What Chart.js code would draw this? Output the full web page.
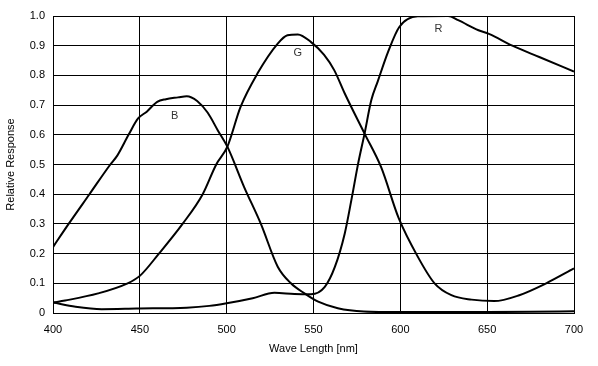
<!DOCTYPE html>
<html>
<head>
<meta charset="utf-8">
<script src="https://cdn.jsdelivr.net/npm/chart.js@4/dist/chart.umd.min.js"></script>
<style>html,body{margin:0;padding:0;background:#fff}canvas{display:block}</style>
</head>
<body>
<canvas id="c" width="598" height="366"></canvas>
<script>
// Wavelengths (nm) and relative responses
const bWave = [400, 409, 421, 433, 437, 443.5, 449, 454, 460, 465, 472, 477, 483, 489, 495, 500.4, 510, 519.7, 529.4, 537, 544.8, 552.7, 564, 579, 600, 650, 675, 700];
const bResp = [0.222, 0.30, 0.40, 0.50, 0.53, 0.60, 0.655, 0.678, 0.711, 0.72, 0.726, 0.73, 0.714, 0.675, 0.614, 0.56, 0.425, 0.30, 0.156, 0.10, 0.066, 0.038, 0.016, 0.005, 0.003, 0.003, 0.004, 0.006];

const gWave = [400, 407, 426, 442.6, 450, 461, 474.6, 486.2, 494, 500.4, 508, 517.7, 529.4, 535, 541, 548.6, 556, 562, 568, 579.4, 589, 599, 610, 619.7, 629.4, 641, 654, 668.5, 684, 700];
const gResp = [0.035, 0.042, 0.066, 0.099, 0.125, 0.20, 0.30, 0.40, 0.50, 0.56, 0.694, 0.806, 0.907, 0.935, 0.938, 0.912, 0.87, 0.817, 0.739, 0.604, 0.49, 0.32, 0.19, 0.10, 0.06, 0.045, 0.04, 0.06, 0.10, 0.15];

const rWave = [400, 413, 428, 448, 477, 490, 500, 515, 527.5, 539, 548.6, 556.5, 562.3, 568, 571.8, 575.7, 579.4, 583.3, 587, 593, 599.4, 610, 627.5, 633.3, 645, 651, 664.5, 680, 700];
const rResp = [0.035, 0.021, 0.013, 0.015, 0.018, 0.024, 0.033, 0.05, 0.068, 0.064, 0.063, 0.088, 0.155, 0.268, 0.38, 0.503, 0.604, 0.717, 0.78, 0.88, 0.963, 0.999, 1.0, 0.986, 0.952, 0.94, 0.90, 0.862, 0.813];

const curveNames = ['B', 'G', 'R'];
const labelWave = [470, 541, 622];
const labelResp = [0.665, 0.875, 0.955];

const xTicks = [400, 450, 500, 550, 600, 650, 700];

function pts(w, r) { return w.map((x, i) => ({x: x, y: r[i]})); }

const lineStyle = {borderColor: '#000', borderWidth: 2, pointRadius: 0, fill: false, cubicInterpolationMode: 'monotone'};

const labelPlugin = {
  id: 'curveLabels',
  afterDatasetsDraw(chart) {
    const ctx = chart.ctx;
    const xs = chart.scales.x, ys = chart.scales.y;
    ctx.save();
    ctx.font = '11px "Liberation Sans", Arial, sans-serif';
    ctx.fillStyle = '#333';
    ctx.textAlign = 'center';
    ctx.textBaseline = 'middle';
    curveNames.forEach((n, i) => {
      ctx.fillText(n, xs.getPixelForValue(labelWave[i]), ys.getPixelForValue(labelResp[i]));
    });
    ctx.restore();
  }
};

const font = {family: '"Liberation Sans", Arial, sans-serif', size: 11};

new Chart(document.getElementById('c'), {
  type: 'line',
  data: {
    datasets: [
      Object.assign({label: 'B', data: pts(bWave, bResp)}, lineStyle),
      Object.assign({label: 'G', data: pts(gWave, gResp)}, lineStyle),
      Object.assign({label: 'R', data: pts(rWave, rResp)}, lineStyle)
    ]
  },
  options: {
    responsive: false,
    animation: false,
    layout: {padding: {left: 0, right: 24, top: 16, bottom: 6}},
    plugins: {legend: {display: false}, tooltip: {enabled: false}},
    scales: {
      x: {
        type: 'linear', min: 400, max: 700,
        afterBuildTicks: s => { s.ticks = xTicks.map(v => ({value: v})); },
        afterFit: s => { s.height = 47; },
        grid: {color: '#000', lineWidth: 1, drawTicks: false},
        border: {color: '#000', width: 1},
        ticks: {color: '#000', font: font, padding: 10, maxRotation: 0},
        title: {display: true, text: 'Wave Length [nm]', color: '#000', font: font, padding: {top: 4}}
      },
      y: {
        type: 'linear', min: 0, max: 1,
        ticks: {stepSize: 0.1, color: '#000', font: font, padding: 8,
          callback: v => (Math.abs(v) < 1e-9 ? '0' : v.toFixed(1))},
        afterFit: s => { s.width = 53; },
        grid: {color: '#000', lineWidth: 1, drawTicks: false},
        border: {color: '#000', width: 1},
        title: {display: true, text: 'Relative Response', color: '#000', font: font, padding: {bottom: 4}}
      }
    }
  },
  plugins: [labelPlugin]
});
</script>
</body>
</html>
